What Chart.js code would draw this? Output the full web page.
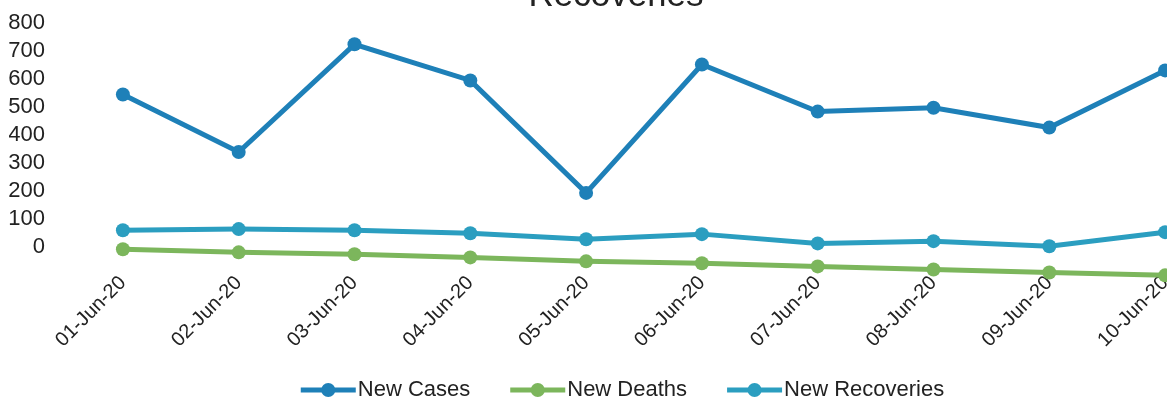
<!DOCTYPE html>
<html lang="en">

<head>
    <meta charset="UTF-8">
    <title>New Cases, Deaths and Recoveries</title>
    <style>
        body {
            margin: 0;
            padding: 0;
            background-color: #fff;
            overflow: hidden;
        }

        #wrap {
            position: absolute;
            left: 0;
            top: -25px;
        }
    </style>
    <script src="https://cdn.jsdelivr.net/npm/chart.js"></script>
</head>

<body>
    <div id="wrap">
        <canvas id="chart" width="1256" height="436"></canvas>
    </div>

    <script>
        // values
        const days = ['01-Jun-20', '02-Jun-20', '03-Jun-20', '04-Jun-20', '05-Jun-20',
            '06-Jun-20', '07-Jun-20', '08-Jun-20', '09-Jun-20', '10-Jun-20'];
        const newCases = [545, 340, 724, 595, 194, 652, 484, 498, 427, 631];
        const newDeaths = [-7, -18, -25, -36, -50, -57, -68, -79, -90, -100];
        const newRecoveries = [61, 65, 61, 50, 29, 47, 14, 22, 4, 54];
        const yTicks = [0, 100, 200, 300, 400, 500, 600, 700, 800];

        const seriesColors = ['#1e80b8', '#7cb65c', '#2b9ec0'];

        function lineSet(label, data, color) {
            return {
                label: label,
                data: data,
                borderColor: color,
                backgroundColor: color,
                borderWidth: 5,
                pointRadius: 7,
                pointHoverRadius: 7,
                pointBackgroundColor: color,
                pointBorderWidth: 0,
                tension: 0,
                clip: false
            };
        }

        // legend marker: short thick line with a dot in the middle
        const legendMarkers = {
            id: 'legendMarkers',
            afterDraw(chart) {
                const legend = chart.legend;
                if (!legend || !legend.legendHitBoxes) return;
                const ctx = chart.ctx;
                const boxW = legend.options.labels.boxWidth;
                legend.legendHitBoxes.forEach((box, i) => {
                    const color = seriesColors[i];
                    const x0 = box.left + 13;
                    const x1 = box.left + boxW + 9;
                    const y = box.top + box.height / 2;
                    ctx.save();
                    ctx.strokeStyle = color;
                    ctx.lineWidth = 5;
                    ctx.beginPath();
                    ctx.moveTo(x0, y);
                    ctx.lineTo(x1, y);
                    ctx.stroke();
                    ctx.fillStyle = color;
                    ctx.beginPath();
                    ctx.arc((x0 + x1) / 2, y, 7, 0, Math.PI * 2);
                    ctx.fill();
                    ctx.restore();
                });
            }
        };

        const ctx = document.getElementById('chart').getContext('2d');
        const chart = new Chart(ctx, {
            type: 'line',
            data: {
                labels: days,
                datasets: [
                    lineSet('New Cases', newCases, seriesColors[0]),
                    lineSet('New Deaths', newDeaths, seriesColors[1]),
                    lineSet('New Recoveries', newRecoveries, seriesColors[2])
                ]
            },
            options: {
                responsive: false,
                animation: false,
                layout: {
                    padding: { left: 9, right: 33, top: 0, bottom: 0 }
                },
                plugins: {
                    title: {
                        display: true,
                        text: 'Recoveries',
                        color: '#222',
                        font: { family: 'Liberation Sans', size: 35, weight: 'normal' },
                        padding: { top: 0, bottom: 6 }
                    },
                    legend: {
                        position: 'bottom',
                        labels: {
                            color: '#222',
                            font: { family: 'Liberation Sans', size: 22 },
                            boxWidth: 59,
                            boxHeight: 10,
                            padding: 27,
                            generateLabels(chart) {
                                const items = Chart.defaults.plugins.legend.labels.generateLabels(chart);
                                items.forEach(item => {
                                    item.fillStyle = 'rgba(0,0,0,0)';
                                    item.strokeStyle = 'rgba(0,0,0,0)';
                                    item.lineWidth = 0;
                                });
                                return items;
                            }
                        }
                    },
                    tooltip: { enabled: false }
                },
                scales: {
                    x: {
                        offset: true,
                        grid: { display: false },
                        border: { display: false },
                        afterFit(axis) {
                            // rotated labels may hang left of the plot, like the original
                            axis.paddingLeft = 0;
                            axis.paddingRight = 0;
                            axis.getPadding = () => ({ left: 0, top: 0, right: 0, bottom: 0 });
                            axis.height += 12;
                        },
                        ticks: {
                            color: '#222',
                            font: { family: 'Liberation Sans', size: 20 },
                            minRotation: 45,
                            maxRotation: 45,
                            autoSkip: false,
                            padding: -12
                        }
                    },
                    y: {
                        min: -100,
                        max: 800,
                        grid: { display: false, drawTicks: false },
                        border: { display: false },
                        afterBuildTicks(axis) {
                            axis.ticks = yTicks.map(v => ({ value: v }));
                        },
                        afterFit(axis) {
                            axis.width = 56;
                        },
                        ticks: {
                            color: '#222',
                            font: { family: 'Liberation Sans', size: 22 },
                            autoSkip: false,
                            padding: 20
                        }
                    }
                }
            },
            plugins: [legendMarkers]
        });
    </script>

</body>

</html>
